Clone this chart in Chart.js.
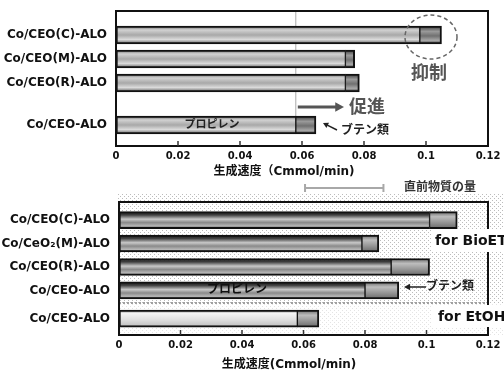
<!DOCTYPE html>
<html>
<head>
<meta charset="utf-8">
<title>生成速度</title>
<script src="https://cdn.jsdelivr.net/npm/chart.js"></script>
<style>
  body { margin: 0; background: #fff; }
  canvas { display: block; }
</style>
</head>
<body>
<canvas id="topChart" width="504" height="180"></canvas>
<canvas id="bottomChart" width="504" height="191"></canvas>
<script>
// upper panel
const topLabels = ['Co/CEO(C)-ALO', 'Co/CEO(M)-ALO', 'Co/CEO(R)-ALO', 'Co/CEO-ALO'];
const topPropylene = [0.098, 0.074, 0.074, 0.058];
const topButene = [0.007, 0.003, 0.0045, 0.0065];

// lower panel
const bottomLabels = ['Co/CEO(C)-ALO', 'Co/CeO₂(M)-ALO', 'Co/CEO(R)-ALO', 'Co/CEO-ALO', 'Co/CEO-ALO'];
const bottomPropylene = [0.101, 0.079, 0.0885, 0.080, 0.058];
const bottomButene = [0.009, 0.0055, 0.0125, 0.011, 0.007];

const xTicks = [0, 0.02, 0.04, 0.06, 0.08, 0.1, 0.12];

// row placement on the index axis (the last row sits apart from the others)
const topRows = [1, 2, 3, 4.75];
const bottomRows = [1, 2, 3, 4, 5.2];

const FONT = "'DejaVu Sans', 'Noto Sans CJK JP', sans-serif";

function barFill(stopsFor, half) {
  return (c) => {
    const chart = c.chart;
    if (!chart.chartArea || !c.raw) return '#999';
    const y = chart.scales.y.getPixelForValue(c.raw.y);
    const g = chart.ctx.createLinearGradient(0, y - half, 0, y + half);
    stopsFor(c.dataIndex).forEach(s => g.addColorStop(s[0], s[1]));
    return g;
  };
}

function noPad(s) {
  s.paddingTop = 0; s.paddingBottom = 0; s.paddingLeft = 0; s.paddingRight = 0;
}

function makeOptions(labels, rows, yMin, yMax, yWidth, xHeight, padTop) {
  return {
    responsive: false,
    animation: false,
    indexAxis: 'y',
    layout: { padding: { top: padTop, right: 16, left: 0, bottom: 0 } },
    plugins: { legend: { display: false }, tooltip: { enabled: false } },
    scales: {
      x: {
        type: 'linear', min: 0, max: 0.12, stacked: true,
        grid: { display: false, drawTicks: false }, border: { display: false },
        afterBuildTicks: s => { s.ticks = xTicks.map(v => ({ value: v })); },
        afterFit: s => { s.height = xHeight; noPad(s); },
        ticks: { color: '#111', padding: 4, maxRotation: 0, font: { family: FONT, size: 10, weight: 'bold' },
                 callback: v => String(v) }
      },
      y: {
        type: 'linear', min: yMin, max: yMax, reverse: true, stacked: true, offset: false,
        grid: { display: false, drawTicks: false, offset: false }, border: { display: false },
        afterBuildTicks: s => { s.ticks = rows.map(v => ({ value: v })); },
        afterFit: s => { s.width = yWidth; noPad(s); },
        ticks: { autoSkip: false, color: '#111', padding: 9, font: { family: FONT, size: 12, weight: 'bold' },
                 callback: v => labels[rows.indexOf(v)] }
      }
    }
  };
}

function drawFrame(chart) {
  const ctx = chart.ctx, a = chart.chartArea, xs = chart.scales.x;
  ctx.save();
  ctx.strokeStyle = '#111';
  ctx.lineWidth = 2;
  ctx.strokeRect(a.left, a.top, a.width, a.height);
  ctx.lineWidth = 1.5;
  ctx.strokeStyle = '#333';
  xTicks.slice(1, -1).forEach(v => {
    const x = xs.getPixelForValue(v);
    ctx.beginPath(); ctx.moveTo(x, a.bottom); ctx.lineTo(x, a.bottom - 5); ctx.stroke();
  });
  ctx.restore();
}

function text(ctx, str, x, y, size, color, align) {
  ctx.font = 'bold ' + size + 'px ' + FONT;
  ctx.fillStyle = color;
  ctx.textAlign = align || 'left';
  ctx.textBaseline = 'middle';
  ctx.fillText(str, x, y);
}

function arrow(ctx, x1, y1, x2, y2, w, head, color) {
  const ang = Math.atan2(y2 - y1, x2 - x1);
  ctx.strokeStyle = color; ctx.fillStyle = color; ctx.lineWidth = w;
  ctx.beginPath(); ctx.moveTo(x1, y1);
  ctx.lineTo(x2 - Math.cos(ang) * head * 0.8, y2 - Math.sin(ang) * head * 0.8); ctx.stroke();
  ctx.beginPath();
  ctx.moveTo(x2, y2);
  ctx.lineTo(x2 - head * Math.cos(ang - 0.5), y2 - head * Math.sin(ang - 0.5));
  ctx.lineTo(x2 - head * Math.cos(ang + 0.5), y2 - head * Math.sin(ang + 0.5));
  ctx.closePath(); ctx.fill();
}

// ---------- upper chart ----------
const topPropStops = () => [[0, '#6a6a6a'], [0.22, '#d2d2d2'], [0.5, '#a8a8a8'], [0.75, '#dadada'], [1, '#5e5e5e']];
const topButStops = () => [[0, '#3a3a3a'], [0.3, '#9a9a9a'], [0.55, '#707070'], [0.8, '#a8a8a8'], [1, '#3a3a3a']];

const topPlugin = {
  id: 'topDecor',
  beforeDatasetsDraw(chart) {
    const ctx = chart.ctx, a = chart.chartArea;
    const x = chart.scales.x.getPixelForValue(topPropylene[3]);
    const yb = chart.scales.y.getPixelForValue(topRows[3]) - 9;
    ctx.save();
    ctx.strokeStyle = '#aaa'; ctx.lineWidth = 1;
    ctx.beginPath(); ctx.moveTo(x, a.top); ctx.lineTo(x, yb); ctx.stroke();
    ctx.restore();
  },
  afterDraw(chart) {
    const ctx = chart.ctx;
    drawFrame(chart);
    ctx.save();
    const x0 = chart.scales.x.getPixelForValue(topPropylene[3]);
    arrow(ctx, x0 + 2, 107, 344, 107, 3, 10, '#555');
    text(ctx, '促進', 349, 108, 18, '#555');
    text(ctx, '抑制', 411, 74, 18, '#555');
    ctx.setLineDash([4, 3]);
    ctx.strokeStyle = '#666'; ctx.lineWidth = 1.5;
    ctx.beginPath(); ctx.ellipse(431, 37, 26, 22, 0, 0, Math.PI * 2); ctx.stroke();
    ctx.setLineDash([]);
    arrow(ctx, 337, 130, 323, 123, 1.5, 6, '#222');
    text(ctx, 'ブテン類', 341, 131, 12, '#222');
    text(ctx, 'プロピレン', 212, 125, 11, '#222', 'center');
    text(ctx, '生成速度（Cmmol/min)', 284, 172, 12, '#111', 'center');
    ctx.restore();
  }
};

new Chart(document.getElementById('topChart'), {
  type: 'bar',
  data: {
    datasets: [
      { label: 'プロピレン', data: topPropylene.map((v, i) => ({ x: v, y: topRows[i] })),
        backgroundColor: barFill(topPropStops, 9), borderColor: '#111',
        borderWidth: { top: 2, bottom: 2, left: 2, right: 1 }, borderSkipped: false, barThickness: 18 },
      { label: 'ブテン類', data: topButene.map((v, i) => ({ x: v, y: topRows[i] })),
        backgroundColor: barFill(topButStops, 9), borderColor: '#111',
        borderWidth: { top: 2, bottom: 2, left: 1, right: 2 }, borderSkipped: false, barThickness: 18 }
    ]
  },
  options: makeOptions(topLabels, topRows, 0, 5.625, 116, 34, 11),
  plugins: [topPlugin]
});

// ---------- lower chart ----------
const botPropStops = i => i === 4
  ? [[0, '#8a8a8a'], [0.2, '#f4f4f4'], [0.55, '#e0e0e0'], [0.85, '#c8c8c8'], [1, '#7a7a7a']]
  : [[0, '#151515'], [0.2, '#404040'], [0.45, '#c8c8c8'], [0.65, '#8a8a8a'], [0.85, '#b8b8b8'], [1, '#333']];
const botButStops = () => [[0, '#6a6a6a'], [0.3, '#bdbdbd'], [0.6, '#9a9a9a'], [1, '#6a6a6a']];

function dotPattern(ctx, color) {
  const p = document.createElement('canvas');
  p.width = 4; p.height = 4;
  const pc = p.getContext('2d');
  pc.fillStyle = color;
  pc.fillRect(0, 0, 1, 1);
  pc.fillRect(2, 2, 1, 1);
  return ctx.createPattern(p, 'repeat');
}

const bottomPlugin = {
  id: 'bottomDecor',
  beforeDraw(chart) {
    const ctx = chart.ctx, a = chart.chartArea;
    ctx.save();
    ctx.fillStyle = '#fff';
    ctx.fillRect(0, 0, chart.width, chart.height);
    ctx.fillStyle = dotPattern(ctx, '#bcbcbc');
    ctx.fillRect(a.left - 1, 14, chart.width - a.left + 1, 109);
    ctx.fillStyle = dotPattern(ctx, '#e4e4e4');
    ctx.fillRect(a.left - 1, 123, chart.width - a.left + 1, a.bottom - 123);
    ctx.setLineDash([2, 2]);
    ctx.strokeStyle = '#a0a0a0'; ctx.lineWidth = 2;
    ctx.beginPath(); ctx.moveTo(a.left, 123); ctx.lineTo(a.right, 123); ctx.stroke();
    ctx.restore();
  },
  afterDraw(chart) {
    const ctx = chart.ctx, xs = chart.scales.x;
    drawFrame(chart);
    ctx.save();
    ctx.fillStyle = '#fff';
    ctx.fillRect(432, 49, 72, 23);
    ctx.fillRect(432, 125, 72, 22);
    text(ctx, 'for BioET', 435, 61, 14, '#111');
    text(ctx, 'for EtOH', 438, 137, 14, '#111');
    // reference span
    const r1 = xs.getPixelForValue(0.0605), r2 = xs.getPixelForValue(0.086);
    ctx.strokeStyle = '#a8a8a8'; ctx.lineWidth = 2;
    ctx.beginPath();
    ctx.moveTo(r1, 8); ctx.lineTo(r2, 8);
    ctx.moveTo(r1, 4); ctx.lineTo(r1, 12);
    ctx.moveTo(r2, 4); ctx.lineTo(r2, 12);
    ctx.stroke();
    text(ctx, '直前物質の量', 404, 8, 12, '#333');
    arrow(ctx, 426, 107, 404, 107, 1.5, 7, '#222');
    text(ctx, 'ブテン類', 426, 107, 12, '#222');
    text(ctx, 'プロピレン', 237, 110, 12, '#111', 'center');
    text(ctx, '生成速度(Cmmol/min)', 289, 185, 12, '#111', 'center');
    ctx.restore();
  }
};

new Chart(document.getElementById('bottomChart'), {
  type: 'bar',
  data: {
    datasets: [
      { label: 'プロピレン', data: bottomPropylene.map((v, i) => ({ x: v, y: bottomRows[i] })),
        backgroundColor: barFill(botPropStops, 8.5), borderColor: '#111',
        borderWidth: { top: 2, bottom: 2, left: 2, right: 1 }, borderSkipped: false, barThickness: 17 },
      { label: 'ブテン類', data: bottomButene.map((v, i) => ({ x: v, y: bottomRows[i] })),
        backgroundColor: barFill(botButStops, 8.5), borderColor: '#111',
        borderWidth: { top: 2, bottom: 2, left: 1, right: 2 }, borderSkipped: false, barThickness: 17 }
    ]
  },
  options: makeOptions(bottomLabels, bottomRows, 0.23, 5.9, 119, 36, 22),
  plugins: [bottomPlugin]
});
</script>
</body>
</html>
